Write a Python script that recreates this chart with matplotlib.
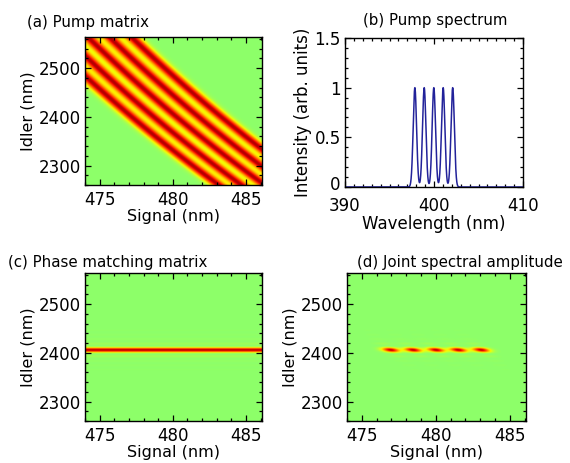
import numpy as np
import matplotlib
matplotlib.use("Agg")
import matplotlib.pyplot as plt
from matplotlib.ticker import MultipleLocator, FixedLocator, FixedFormatter
from matplotlib.transforms import ScaledTranslation

plt.rcParams['font.family'] = ['DejaVu Sans']

# ---------------- data ----------------
pump_peaks_nm = [397.85, 398.9, 399.98, 401.03, 402.1]
pump_peak_heights = [1.0, 1.0, 1.0, 1.0, 1.0]
spectrum_sigma_nm = 0.19        # width of each comb line in the spectrum
matrix_sigma_nm = 0.27          # width of each comb line in the pump matrix
matrix_offset_nm = 0.2          # comb position offset seen in the matrices
pm_center_idler_nm = 2406.0     # phase-matched idler wavelength
pm_width_nm = 9.0               # phase-matching sinc width

signal_range = [474.0, 486.1]
idler_range = [2260.0, 2564.0]
wavelength_range = [390.0, 410.0]
intensity_range = [0.0, 1.5]

signal_ticks = [475, 480, 485]
idler_ticks = [2300, 2400, 2500]
wavelength_ticks = [390, 400, 410]
intensity_ticks = [0, 0.5, 1, 1.5]
intensity_ticklabels = ['0', '0.5', '1', '1.5']

panel_titles = ['(a) Pump matrix', '(b) Pump spectrum',
                '(c) Phase matching matrix', '(d) Joint spectral amplitude']

# ---------------- derived fields ----------------
wl = np.linspace(wavelength_range[0], wavelength_range[1], 4001)
spectrum = np.zeros_like(wl)
for p, h in zip(pump_peaks_nm, pump_peak_heights):
    spectrum += h * np.exp(-(wl - p) ** 2 / (2 * spectrum_sigma_nm ** 2))

sig = np.linspace(signal_range[0], signal_range[1], 600)
idl = np.linspace(idler_range[0], idler_range[1], 600)
S, I = np.meshgrid(sig, idl)
lam_p = 1.0 / (1.0 / S + 1.0 / I)
pump_mat = np.zeros_like(S)
for p, h in zip(pump_peaks_nm, pump_peak_heights):
    pump_mat += h * np.exp(-(lam_p - p - matrix_offset_nm) ** 2 / (2 * matrix_sigma_nm ** 2))
pump_mat /= pump_mat.max()
pm_mat = np.sinc((I - pm_center_idler_nm) / pm_width_nm) ** 2
jsa = pump_mat * pm_mat
jsa /= jsa.max()

# ---------------- figure ----------------
W, H = 570, 463
fig = plt.figure(figsize=(W / 100, H / 100), dpi=100)


def ax_px(x0, y0, x1, y1):
    return fig.add_axes([x0 / W, 1 - y1 / H, (x1 - x0) / W, (y1 - y0) / H])


def style(ax, xminor, yminor, xpad=5):
    ax.tick_params(which='both', direction='in', top=True, right=True,
                   labelsize=12, width=0.9)
    ax.tick_params(which='major', length=4)
    ax.tick_params(which='minor', length=2)
    ax.tick_params(axis='x', pad=xpad)
    ax.tick_params(axis='y', pad=3)
    ax.xaxis.set_minor_locator(MultipleLocator(xminor))
    ax.yaxis.set_minor_locator(MultipleLocator(yminor))
    for s in ax.spines.values():
        s.set_linewidth(1.0)


def heat(ax, data):
    ax.imshow(data, origin='lower', aspect='auto', cmap='jet', vmin=-1.2, vmax=1.1,
              extent=[signal_range[0], signal_range[1], idler_range[0], idler_range[1]],
              interpolation='bilinear')
    ax.set_xlim(signal_range)
    ax.set_ylim(idler_range)
    ax.set_xticks(signal_ticks)
    ax.set_yticks(idler_ticks)
    ax.set_xlabel('Signal (nm)', fontsize=11.5, labelpad=0)
    ax.set_ylabel('Idler (nm)', fontsize=11.5, labelpad=2)
    style(ax, 1, 20, xpad=4)


axa = ax_px(85, 37, 262, 185)
heat(axa, pump_mat)

axb = ax_px(345, 38, 523, 187)
axb.plot(wl, spectrum, color='#22229a', lw=1.1)
axb.set_xlim(wavelength_range)
axb.set_ylim(intensity_range)
axb.set_xticks(wavelength_ticks)
axb.yaxis.set_major_locator(FixedLocator(intensity_ticks))
axb.yaxis.set_major_formatter(FixedFormatter(intensity_ticklabels))
axb.set_xlabel('Wavelength (nm)', fontsize=12, labelpad=0)
axb.set_ylabel('Intensity (arb. units)', fontsize=12, labelpad=2)
style(axb, 1, 0.1, xpad=7)
# lift the "0" label slightly so it does not collide with "390"
zero_lbl = axb.yaxis.get_major_ticks()[0].label1
zero_lbl.set_transform(zero_lbl.get_transform() + ScaledTranslation(0, 4 / 100, fig.dpi_scale_trans))

axc = ax_px(85, 273, 262, 421)
heat(axc, pm_mat)

axd = ax_px(347, 273, 526, 421)
heat(axd, jsa)

fs_t = 10.8
fig.text(27 / W, 1 - 22 / H, panel_titles[0], ha='left', va='center', fontsize=fs_t)
fig.text(435 / W, 1 - 20 / H, panel_titles[1], ha='center', va='center', fontsize=fs_t)
fig.text(8 / W, 1 - 263 / H, panel_titles[2], ha='left', va='center', fontsize=fs_t)
fig.text(357 / W, 1 - 263 / H, panel_titles[3], ha='left', va='center', fontsize=fs_t)

fig.savefig('out.png', dpi=100, facecolor='white')
